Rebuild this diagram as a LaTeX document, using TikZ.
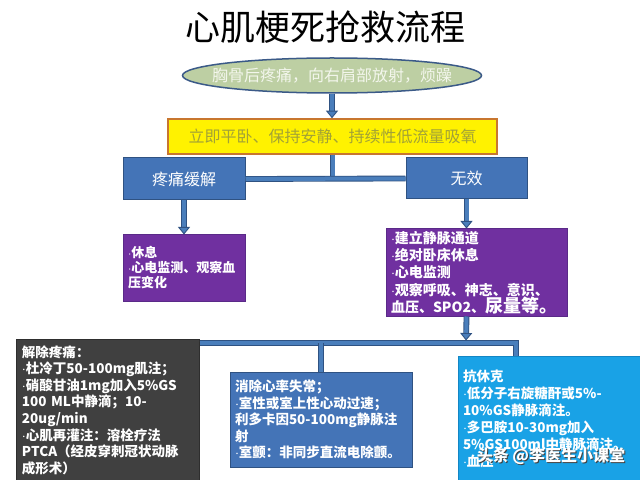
\documentclass[tikz,border=0pt]{standalone}
\usepackage{fontspec}
\setmainfont{Noto Sans CJK SC}
\usetikzlibrary{shapes.geometric,arrows.meta}

\definecolor{pipeblue}{HTML}{4A7EBB}
\definecolor{pipeedge}{HTML}{2F5282}
\definecolor{boxblue}{HTML}{4474B7}
\definecolor{boxedge}{HTML}{2F5282}
\definecolor{boxpurple}{HTML}{7030A0}
\definecolor{purpleedge}{HTML}{5A2A88}
\definecolor{boxgray}{HTML}{404040}
\definecolor{grayedge}{HTML}{2E2E2E}
\definecolor{boxcyan}{HTML}{19A2E6}
\definecolor{cyanedge}{HTML}{1386C4}
\definecolor{chestfill}{HTML}{BDCFA3}
\definecolor{chestedge}{HTML}{3B5A88}
\definecolor{chesttext}{HTML}{F3F6EC}
\definecolor{oxyedge}{HTML}{C8762F}
\definecolor{oxytext}{HTML}{A2A236}

\newcommand{\itemdot}{$\cdot$}

\begin{document}
\begin{tikzpicture}[x=1bp, y=-1bp,
    box/.style={draw, line width=1bp, inner xsep=5bp, inner ysep=0pt, align=left},
    bluebox/.style={box, fill=boxblue, draw=boxedge, text=white, align=center,
      font=\fontsize{16bp}{18bp}\selectfont},
    purplebox/.style={box, fill=boxpurple, draw=purpleedge, text=white,
      font=\bfseries\fontsize{14bp}{17.3bp}\selectfont},
    drugbox/.style={box, text=white, font=\bfseries\fontsize{13.5bp}{16.6bp}\selectfont},
    pipe/.style={draw=pipeedge, double=pipeblue, double distance=4bp, line width=0.9bp},
    pipearrow/.style={pipe, -{Triangle[width=12bp, length=7.5bp, fill=pipeblue]}}
  ]
  \fill[white] (0,0) rectangle (640,480);
  \useasboundingbox (0,0) rectangle (640,480);

  \node[font=\fontsize{35bp}{40bp}\selectfont] at (325, 27) (title) {心肌梗死抢救流程};

  \node[ellipse, draw=chestedge, fill=chestfill, line width=1.5bp, inner sep=0pt,
        minimum width=299bp, minimum height=35bp, text=chesttext,
        font=\fontsize{16bp}{18bp}\selectfont] at (332, 75.5) (chest)
        {\makebox[200bp][c]{胸骨后疼痛，向右肩部放射，烦躁}};
  \node[box, fill=yellow, draw=oxyedge, line width=1.5bp, align=center, text=oxytext,
        minimum width=329bp, minimum height=35bp,
        font=\fontsize{16bp}{18bp}\selectfont] at (332.5, 136.5) (oxygen)
        {立即平卧、保持安静、持续性低流量吸氧};

  \node[bluebox, minimum width=122bp, minimum height=42bp] at (184, 179)   (relief)  {疼痛缓解};
  \node[bluebox, minimum width=121bp, minimum height=41bp] at (466.5, 178.5) (invalid) {无效};

  \node[purplebox, text width=112bp, minimum height=66bp,
        font=\bfseries\fontsize{13bp}{15bp}\selectfont] at (184, 268) (watch1)
        {\itemdot 休息\\\itemdot 心电监测、观察血\\压变化};
  \node[purplebox, text width=171bp, minimum height=87bp] at (476.5, 272.5) (watch2)
        {\itemdot 建立静脉通道\\\itemdot 绝对卧床休息\\\itemdot 心电监测\\\itemdot 观察呼吸、神志、意识、\\
         血压、SPO2、{\fontsize{18bp}{17.3bp}\selectfont 尿量等。}};

  \node[drugbox, fill=boxgray, draw=grayedge, text width=172bp, minimum height=142bp]
        at (108, 410) (painbox)
        {解除疼痛：\\\itemdot 杜冷丁50-100mg肌注；\\\itemdot 硝酸甘油1mg加入5\%GS\\100 ML中静滴；10-\\
         20ug/min\\\itemdot 心肌再灌注：溶栓疗法\\PTCA（经皮穿刺冠状动脉\\成形术）};
  \node[drugbox, fill=boxblue, draw=boxedge, text width=172bp, minimum height=95bp]
        at (321, 419.5) (rhythm)
        {消除心率失常；\\\itemdot 室性或室上性心动过速；\\利多卡因50-100mg静脉注\\射\\\itemdot 室颤：非同步直流电除颤。};
  \node[drugbox, fill=boxcyan, draw=cyanedge, text width=174bp, minimum height=125bp,
        font=\bfseries\fontsize{13.5bp}{17bp}\selectfont] at (550, 418.5) (shock)
        {抗休克\\\itemdot 低分子右旋糖酐或5\%-\\10\%GS静脉滴注。\\\itemdot 多巴胺10-30mg加入\\5\%GS100ml中静脉滴注。\\\itemdot 血压};

  \draw[pipearrow] (chest.south) -- (chest.south |- oxygen.north);
  \draw[pipe] (oxygen.south) -- (oxygen.south |- relief.east);
  \draw[pipe] (relief.east) -- (invalid.west);
  \draw[pipearrow] (relief.south) -- (watch1.north);
  \draw[pipearrow] (invalid.south) -- (invalid.south |- watch2.north);

  \coordinate (bus) at (466, 343);
  \coordinate (busend) at (516, 343);
  \draw[pipearrow, shorten >=2.5bp] (invalid.south |- watch2.south) -- (bus);
  \draw[pipe] (bus -| painbox.east) -- (busend) -- (busend |- shock.north);
  \draw[pipe] (bus -| rhythm.north) -- (rhythm.north);

  % watermark
  \node[text=white, font=\bfseries\fontsize{16bp}{18bp}\selectfont] at (551, 457) (mark)
        {\rlap{\raisebox{-1bp}{\hspace{1bp}\color{black!75}头条 @李医生小课堂}}头条 @李医生小课堂};
\end{tikzpicture}
\end{document}
